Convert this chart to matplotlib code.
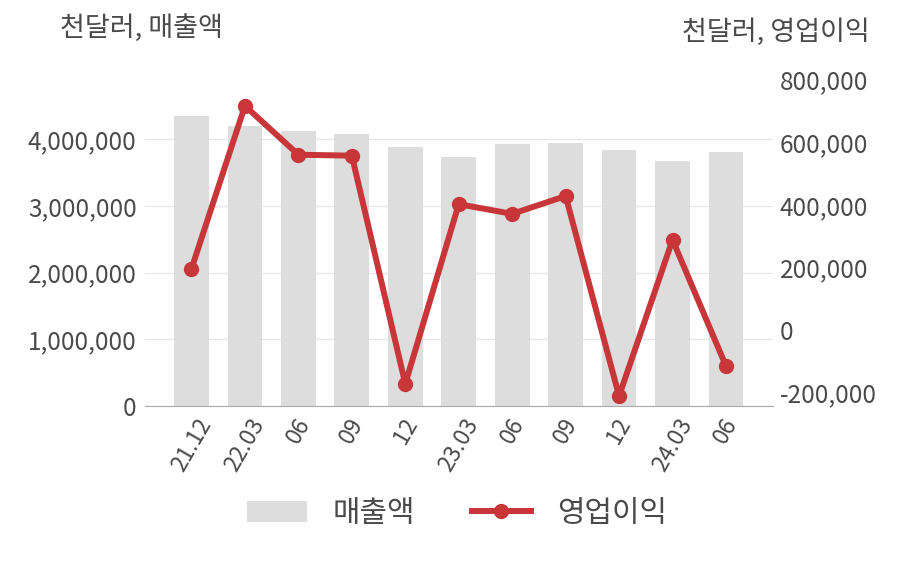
import matplotlib
matplotlib.use('Agg')
import matplotlib.pyplot as plt
from matplotlib.ticker import FuncFormatter
import numpy as np

plt.rcParams['font.family'] = ['Noto Sans CJK KR', 'DejaVu Sans']

''' data (천달러) '''
quarters = ['21.12', '22.03', '06', '09', '12', '23.03', '06', '09', '12', '24.03', '06']
sales = [4348000, 4198000, 4123000, 4078000, 3879000, 3733000, 3928000, 3938000, 3838000, 3673000, 3808000]
op_profit = [196000, 716000, 560000, 557000, -172000, 402000, 371000, 428000, -211000, 288000, -115000]

bar_color = '#dddddd'
line_color = '#c8363a'
text_color = '#4a4a4a'

fig = plt.figure(figsize=(9.08, 5.8), dpi=100)
ax = fig.add_axes([145/908, 1-406/580, (773-145)/908, (406-70)/580])
ax2 = ax.twinx()

x = np.arange(len(quarters))
bars = ax.bar(x, sales, width=0.65, color=bar_color, zorder=2, label='매출액')
line, = ax2.plot(x, op_profit, color=line_color, linewidth=4.3, marker='o', markersize=10,
                 zorder=3, label='영업이익')

ax.set_xlim(-0.87, len(quarters) - 1 + 0.88)
ax.set_ylim(0, 336/66.7*1e6)
ax.set_yticks([0, 1e6, 2e6, 3e6, 4e6])
# right axis: 0 sits at y=330 px, 200,000 per 62.6 px
ax2.set_ylim(-76/62.6*200000, 260/62.6*200000)
ax2.set_yticks([-200000, 0, 200000, 400000, 600000, 800000])

fmt = FuncFormatter(lambda v, p: '{:,.0f}'.format(v))
ax.yaxis.set_major_formatter(fmt)
ax2.yaxis.set_major_formatter(fmt)

ax.set_xticks(x)
ax.set_xticklabels(quarters, rotation=60, ha='center')
ax.grid(axis='y', color='#e8e8e8', linewidth=1, zorder=0)
ax.set_axisbelow(True)

for a in (ax, ax2):
    for s in ('top', 'left', 'right'):
        a.spines[s].set_visible(False)
    a.tick_params(length=0, labelsize=17.5, labelcolor=text_color)
ax.spines['bottom'].set_visible(False)
ax2.spines['bottom'].set_color('#aaaaaa')
ax.tick_params(axis='x', pad=6, labelsize=16.5)
ax.tick_params(axis='y', pad=6)
ax2.tick_params(axis='y', pad=5)

fig.text(60/908, 1-28/580, '천달러, 매출액', fontsize=19.5, color=text_color, ha='left', va='center')
fig.text(870/908, 1-32/580, '천달러, 영업이익', fontsize=19.5, color=text_color, ha='right', va='center')

fig.legend([bars, line], ['매출액', '영업이익'], loc='center', bbox_to_anchor=(457/908, 1-513/580),
           ncol=2, frameon=False, fontsize=21.5, labelcolor=text_color, handlelength=2.0,
           columnspacing=1.9, handletextpad=0.85)

fig.savefig('out.png', dpi=100)
